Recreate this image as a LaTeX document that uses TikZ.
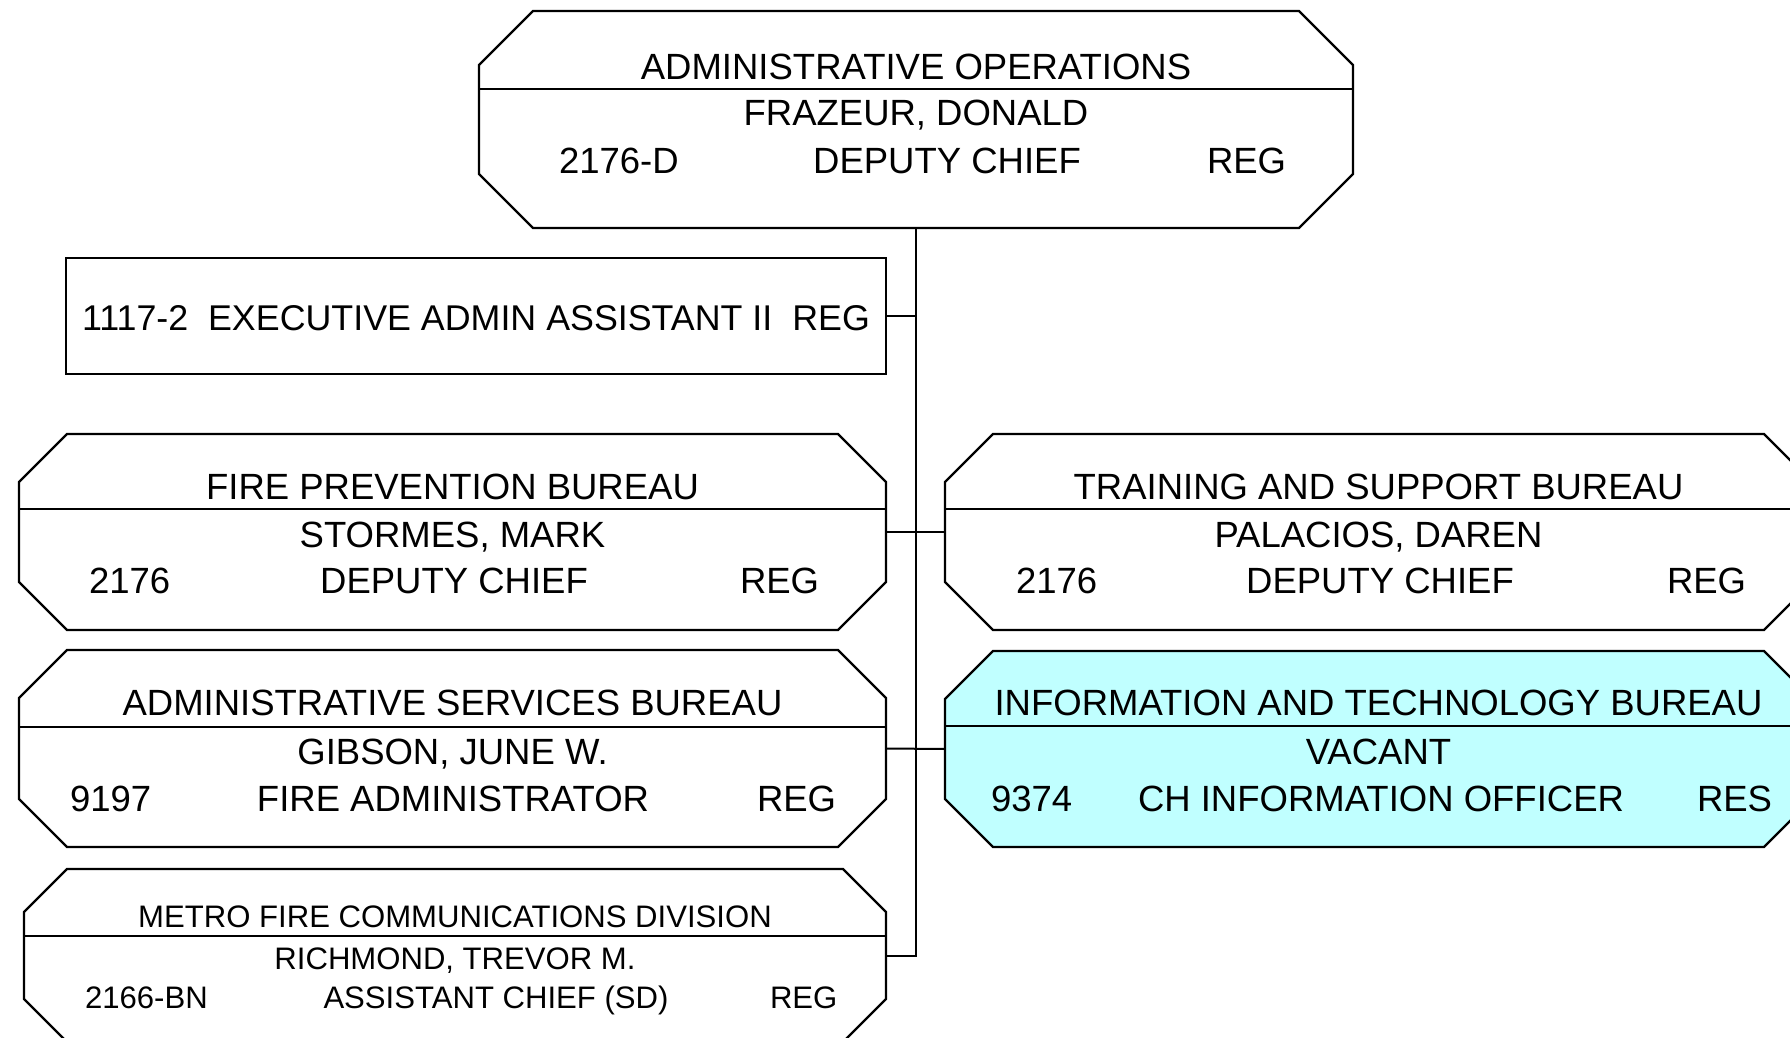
\documentclass[tikz,border=0pt]{standalone}
\usepackage{fontspec}
\setmainfont{Liberation Sans}
\usetikzlibrary{calc}
\definecolor{itfill}{RGB}{192,255,255}
\tikzset{
  frame/.style={rectangle, draw=none, inner sep=0pt, outer sep=0pt},
  boxline/.style={draw=black, line width=2.2pt, line join=miter},
  conn/.style={draw=black, line width=2pt},
  txt/.style={inner sep=0pt, outer sep=0pt, font=\fontsize{36.5}{40}\selectfont},
  etxt/.style={inner sep=0pt, outer sep=0pt, font=\fontsize{35.8}{40}\selectfont},
  stxt/.style={inner sep=0pt, outer sep=0pt, font=\fontsize{31.1}{34}\selectfont},
}
\newcommand{\octobox}[3][white]{%
 \draw[boxline, fill=#1] ([xshift=#3]#2.north west) -- ([xshift=-#3]#2.north east) -- ([yshift=-#3]#2.north east) -- ([yshift=#3]#2.south east) -- ([xshift=-#3]#2.south east) -- ([xshift=#3]#2.south west) -- ([yshift=#3]#2.south west) -- ([yshift=-#3]#2.north west) -- cycle;}
\newcommand{\hdrline}[2]{\draw[boxline] ([yshift=-#2]#1.north west) -- ([yshift=-#2]#1.north east);}
\begin{document}
\begin{tikzpicture}[x=1pt,y=-1pt]
\path[use as bounding box] (0,0) rectangle (1790,1038);
\clip (0,0) rectangle (1790,1038);

% frames
\node[frame, minimum width=874, minimum height=217] (ops) at (916,119.5) {};
\node[frame, boxline, minimum width=819.4, minimum height=116] (exec) at (476,316) {};
\node[frame, minimum width=867, minimum height=196] (fp) at (452.5,532) {};
\node[frame, minimum width=867, minimum height=196] (tsb) at (1378.5,532) {};
\node[frame, minimum width=867, minimum height=197] (asb) at (452.5,748.5) {};
\node[frame, minimum width=867, minimum height=196] (itb) at (1378.5,749) {};
\node[frame, minimum width=862, minimum height=173] (mfc) at (455,955.5) {};

% connectors
\draw[conn] (ops.south) -- (ops.south |- mfc.east) -- (mfc.east);
\draw[conn] (exec.east) -- (exec.east -| ops.south);
\draw[conn] (fp.east) -- (tsb.west);
\draw[conn] (asb.east) -- (itb.west);

% outlines
\octobox{ops}{54} \hdrline{ops}{78}
\octobox{fp}{48} \hdrline{fp}{75}
\octobox{tsb}{48} \hdrline{tsb}{75}
\octobox{asb}{48} \hdrline{asb}{77}
\octobox[itfill]{itb}{48} \hdrline{itb}{75}
\octobox{mfc}{43} \hdrline{mfc}{67}

% texts: administrative operations
\node[txt, anchor=base] (ops-t) at (916,80) {ADMINISTRATIVE OPERATIONS};
\node[txt, anchor=base] (ops-n) at (916,126) {FRAZEUR, DONALD};
\node[txt, anchor=base west] (ops-c) at (559,173) {2176-D};
\node[txt, anchor=base] (ops-j) at (947,173) {DEPUTY CHIEF};
\node[txt, anchor=base west] (ops-s) at (1207,173) {REG};

% exec assistant
\node[etxt, anchor=base] (exec-t) at (476,330) {1117-2~~EXECUTIVE ADMIN ASSISTANT II~~REG};

% fire prevention
\node[txt, anchor=base] (fp-t) at (452.5,499) {FIRE PREVENTION BUREAU};
\node[txt, anchor=base] (fp-n) at (452.5,547) {STORMES, MARK};
\node[txt, anchor=base west] (fp-c) at (89,593) {2176};
\node[txt, anchor=base] (fp-j) at (454,593) {DEPUTY CHIEF};
\node[txt, anchor=base west] (fp-s) at (740,593) {REG};

% training and support
\node[txt, anchor=base] (tsb-t) at (1378.5,499) {TRAINING AND SUPPORT BUREAU};
\node[txt, anchor=base] (tsb-n) at (1378.5,547) {PALACIOS, DAREN};
\node[txt, anchor=base west] (tsb-c) at (1016,593) {2176};
\node[txt, anchor=base] (tsb-j) at (1380,593) {DEPUTY CHIEF};
\node[txt, anchor=base west] (tsb-s) at (1667,593) {REG};

% administrative services
\node[txt, anchor=base] (asb-t) at (452.5,715) {ADMINISTRATIVE SERVICES BUREAU};
\node[txt, anchor=base] (asb-n) at (452.5,764) {GIBSON, JUNE W.};
\node[txt, anchor=base west] (asb-c) at (70,811) {9197};
\node[txt, anchor=base] (asb-j) at (453,811) {FIRE ADMINISTRATOR};
\node[txt, anchor=base west] (asb-s) at (757,811) {REG};

% information and technology
\node[txt, anchor=base] (itb-t) at (1378.5,715) {INFORMATION AND TECHNOLOGY BUREAU};
\node[txt, anchor=base] (itb-n) at (1378.5,764) {VACANT};
\node[txt, anchor=base west] (itb-c) at (991,811) {9374};
\node[txt, anchor=base] (itb-j) at (1381,811) {CH INFORMATION OFFICER};
\node[txt, anchor=base west] (itb-s) at (1697,811) {RES};

% metro fire communications
\node[stxt, anchor=base] (mfc-t) at (455,927) {METRO FIRE COMMUNICATIONS DIVISION};
\node[stxt, anchor=base] (mfc-n) at (455,969) {RICHMOND, TREVOR M.};
\node[stxt, anchor=base west] (mfc-c) at (85,1008) {2166-BN};
\node[stxt, anchor=base] (mfc-j) at (496,1008) {ASSISTANT CHIEF (SD)};
\node[stxt, anchor=base west] (mfc-s) at (770,1008) {REG};
\end{tikzpicture}
\end{document}
